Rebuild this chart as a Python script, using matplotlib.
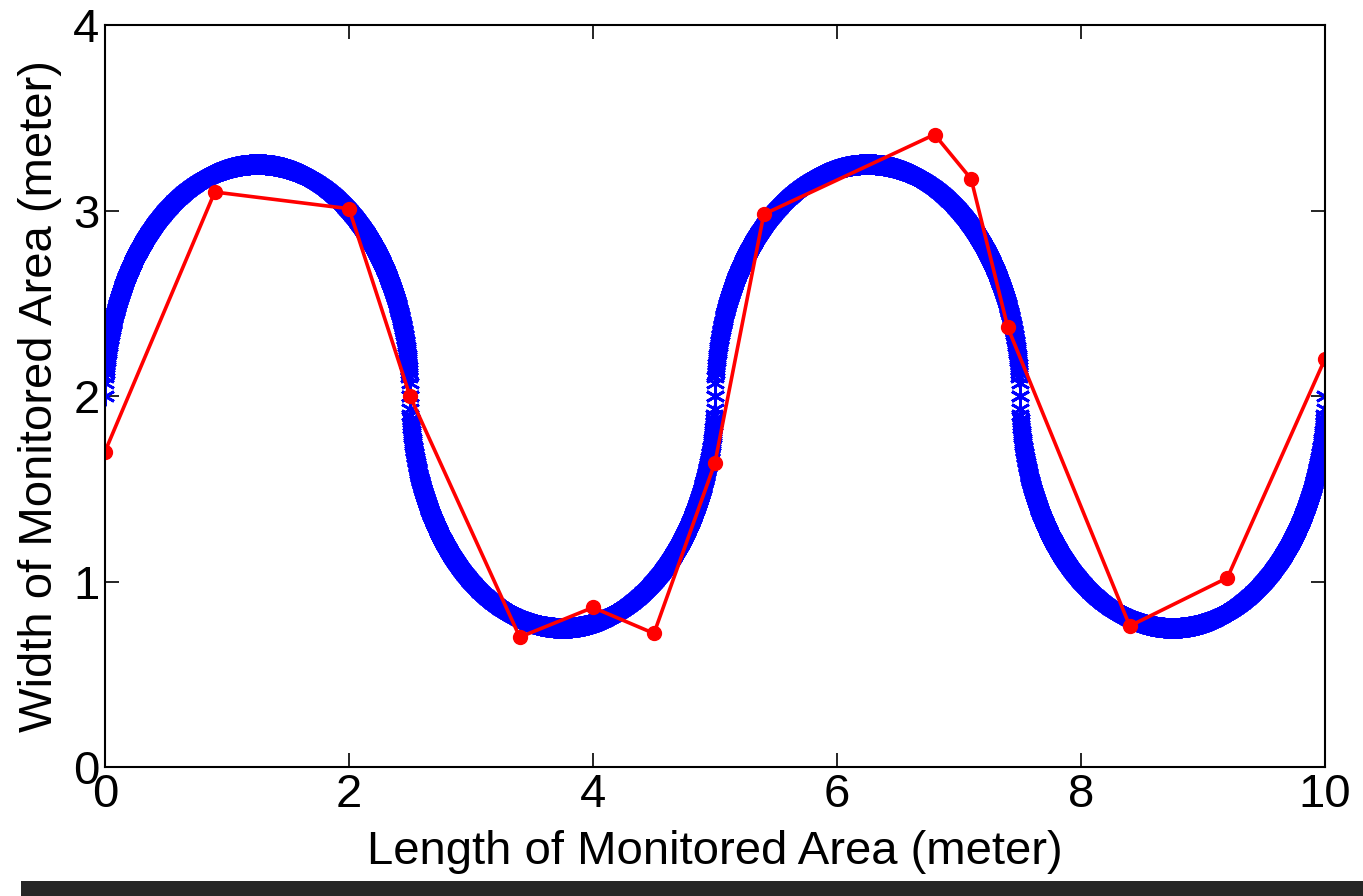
import numpy as np
import matplotlib.pyplot as plt
from matplotlib.patches import Rectangle

# reference path: alternating half ellipses (centre x, side +1 up / -1 down)
arc_centers = [1.25, 3.75, 6.25, 8.75]
arc_sides = [1, -1, 1, -1]
arc_radius = 1.25
arc_mid = 2.0
arc_step = 0.002

# estimated trajectory (red)
est_x = [0.0, 0.9, 2.0, 2.5, 3.4, 4.0, 4.5, 5.0, 5.4, 6.8, 7.1, 7.4, 8.4, 9.2, 10.0]
est_y = [1.70, 3.10, 3.01, 2.00, 0.70, 0.86, 0.72, 1.64, 2.98, 3.41, 3.17, 2.37, 0.76, 1.02, 2.20]

xticks = [0, 2, 4, 6, 8, 10]
yticks = [0, 1, 2, 3, 4]

plt.rcParams['font.family'] = ['Liberation Sans', 'DejaVu Sans']

fig = plt.figure(figsize=(13.63, 8.96), dpi=100)
ax = fig.add_axes([0.077, 0.144, 0.8951, 0.828])

# blue path built from the arcs
px, py = [], []
for c, s in zip(arc_centers, arc_sides):
    xs = np.arange(c - arc_radius, c + arc_radius + 1e-9, arc_step)
    ys = arc_mid + s * np.sqrt(np.clip(arc_radius**2 - (xs - c)**2, 0, None))
    px.extend(xs)
    py.extend(ys)
ax.plot(px, py, linestyle='none', marker=(6, 2, 0), markersize=14,
        markeredgewidth=2, color='#0000ff')

ax.plot(est_x, est_y, '-o', color='#ff0000', linewidth=2.6, markersize=10)

ax.set_xlim(0, 10)
ax.set_ylim(0, 4)
ax.set_xticks(xticks)
ax.set_yticks(yticks)
ax.tick_params(direction='in', length=10, width=1.2, top=True, right=True,
               labelsize=34, pad=4)
for sp in ax.spines.values():
    sp.set_linewidth(1.5)
ax.set_xlabel('Length of Monitored Area (meter)', fontsize=34, labelpad=10)
ax.set_ylabel('Width of Monitored Area (meter)', fontsize=34, labelpad=8)

# dark strip at the bottom of the picture
fig.patches.append(Rectangle((0.0154, 0), 1 - 0.0154, 15 / 896, transform=fig.transFigure,
                             facecolor='#262626', edgecolor='none'))

fig.savefig('out.png', dpi=100)
